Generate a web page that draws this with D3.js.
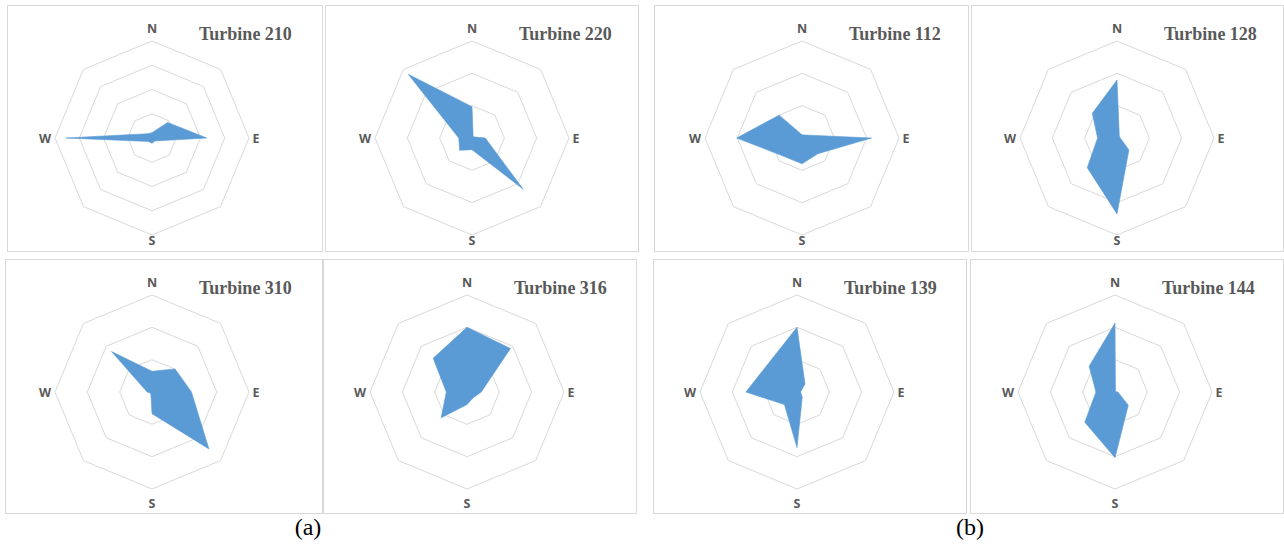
<!DOCTYPE html>
<html>
<head>
<meta charset="utf-8">
<script src="https://cdn.jsdelivr.net/npm/d3@7"></script>
<style>
  body { margin: 0; background: #ffffff; }
  svg { display: block; }
</style>
</head>
<body>
<svg id="chart" width="1284" height="548"></svg>
<script>
// Wind direction sectors, clockwise from north
const directions = ["N", "NE", "E", "SE", "S", "SW", "W", "NW"];

// Wind frequency per sector for each turbine
const turbine210 = [2.2, 9.1, 22.6, 1.7, 2.2, 2.0, 35.4, 2.5];
const turbine220 = [9.7, 0.5, 4.1, 22.4, 3.6, 5.4, 4.1, 27.9];
const turbine310 = [6.4, 10.1, 12.2, 24.9, 6.7, 0.5, 1.5, 17.7];
const turbine316 = [20.0, 19.0, 4.4, 2.6, 3.9, 11.3, 6.4, 14.8];
const turbine112 = [1.0, 1.3, 21.5, 6.9, 8.0, 8.0, 20.2, 10.0];
const turbine128 = [17.9, 1.0, 1.0, 5.2, 23.5, 13.0, 6.0, 10.8];
const turbine139 = [20.0, 3.5, 1.1, 2.3, 17.2, 5.5, 15.8, 12.5];
const turbine144 = [21.3, 0.2, 0.9, 5.8, 20.3, 13.2, 5.9, 11.3];

const turbineTitles = ["Turbine 210", "Turbine 220", "Turbine 310", "Turbine 316",
                       "Turbine 112", "Turbine 128", "Turbine 139", "Turbine 144"];
const turbineSeries = [turbine210, turbine220, turbine310, turbine316,
                       turbine112, turbine128, turbine139, turbine144];
// Radial axis maximum for each chart; gridline every ringStep
const axisMax = [40, 30, 30, 30, 30, 30, 30, 30];
const ringStep = 10;

const compassLabels = ["N", "E", "S", "W"];
const groupLabels = ["(a)", "(b)"];

// ---- layout ----
const W = 1284, H = 548;
const outerR = 97;
const frames = [
  { x: 7,   y: 5,   w: 315, h: 246, cx: 152,  cy: 138, sGap: 102 },
  { x: 325, y: 5,   w: 313, h: 246, cx: 472,  cy: 138, sGap: 102 },
  { x: 5,   y: 259, w: 317, h: 254, cx: 152,  cy: 392, sGap: 111 },
  { x: 323, y: 259, w: 313, h: 254, cx: 467,  cy: 392, sGap: 111 },
  { x: 654, y: 5,   w: 314, h: 246, cx: 802,  cy: 138, sGap: 102 },
  { x: 971, y: 5,   w: 312, h: 246, cx: 1117, cy: 138, sGap: 102 },
  { x: 653, y: 259, w: 313, h: 254, cx: 797,  cy: 392, sGap: 111 },
  { x: 970, y: 259, w: 313, h: 254, cx: 1115, cy: 392, sGap: 111 }
];
const groupLabelPos = [{ x: 308, y: 535 }, { x: 970, y: 535 }];

const svg = d3.select("#chart");
svg.append("rect").attr("width", W).attr("height", H).attr("fill", "#ffffff");

const angle = d3.scalePoint().domain(directions).range([0, 2 * Math.PI * 7 / 8]);

turbineSeries.forEach((values, k) => {
  const f = frames[k];
  const r = d3.scaleLinear().domain([0, axisMax[k]]).range([0, outerR]);

  // chart frame
  svg.append("rect")
    .attr("x", f.x + 0.5).attr("y", f.y + 0.5)
    .attr("width", f.w).attr("height", f.h)
    .attr("fill", "#ffffff")
    .attr("stroke", "#d9d9d9").attr("stroke-width", 1);

  const g = svg.append("g").attr("transform", `translate(${f.cx},${f.cy})`);

  // octagonal gridlines
  const ringLine = d3.lineRadial()
    .angle(d => angle(d.dir))
    .radius(d => r(d.v))
    .curve(d3.curveLinearClosed);
  const rings = d3.range(ringStep, axisMax[k] + 0.001, ringStep);
  g.selectAll("path.ring")
    .data(rings)
    .join("path")
    .attr("class", "ring")
    .attr("d", v => ringLine(directions.map(dir => ({ dir, v }))))
    .attr("fill", "none")
    .attr("stroke", "#d9d9d9")
    .attr("stroke-width", 1);

  // frequency polygon
  const series = directions.map((dir, i) => ({ dir, v: values[i] }));
  g.append("path")
    .attr("d", ringLine(series))
    .attr("fill", "#5b9bd5")
    .attr("stroke", "#5b9bd5")
    .attr("stroke-width", 0.6)
    .attr("stroke-linejoin", "miter");

  // compass labels
  const labelOffset = { N: [0, -110], E: [104, 0], S: [0, f.sGap], W: [-107, 0] };
  g.selectAll("text.compass")
    .data(compassLabels)
    .join("text")
    .attr("class", "compass")
    .attr("x", d => labelOffset[d][0])
    .attr("y", d => labelOffset[d][1])
    .attr("text-anchor", "middle")
    .attr("dominant-baseline", "central")
    .attr("font-family", "'Open Sans', 'Liberation Sans', sans-serif")
    .attr("font-weight", 700)
    .attr("font-size", 12.5)
    .attr("fill", "#595959")
    .text(d => d);

  // title
  g.append("text")
    .attr("x", 47)
    .attr("y", -98)
    .attr("font-family", "'Liberation Serif', 'Times New Roman', serif")
    .attr("font-weight", "bold")
    .attr("font-size", 18)
    .attr("fill", "#595959")
    .text(turbineTitles[k]);
});

// group captions
svg.selectAll("text.group")
  .data(groupLabels)
  .join("text")
  .attr("class", "group")
  .attr("x", (d, i) => groupLabelPos[i].x)
  .attr("y", (d, i) => groupLabelPos[i].y)
  .attr("text-anchor", "middle")
  .attr("font-family", "'Liberation Serif', 'Times New Roman', serif")
  .attr("font-size", 24)
  .attr("fill", "#000000")
  .text(d => d);
</script>
</body>
</html>
